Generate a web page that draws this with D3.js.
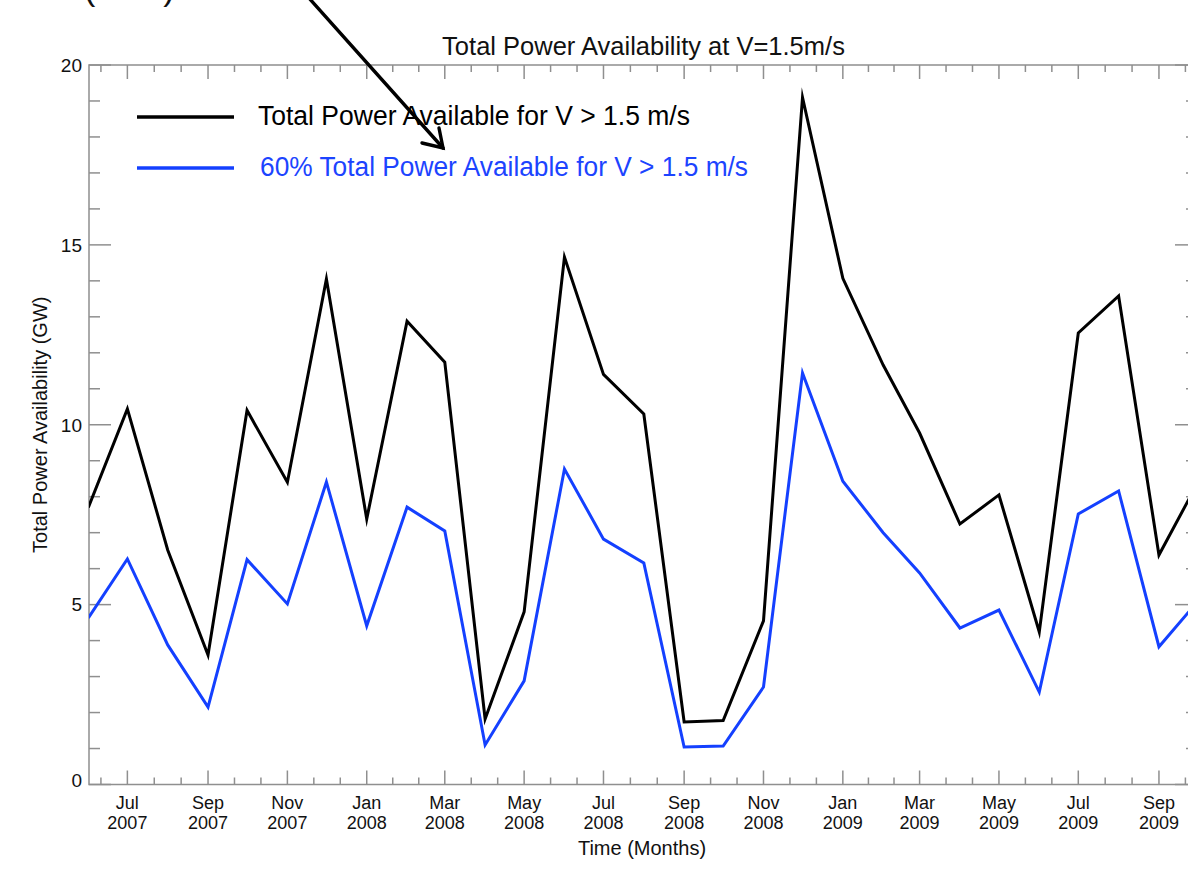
<!DOCTYPE html>
<html>
<head>
<meta charset="utf-8">
<script src="https://cdn.jsdelivr.net/npm/d3@7"></script>
<style>
  html, body { margin: 0; padding: 0; background: #fff; }
  svg { display: block; }
  text { font-family: "Liberation Sans", Arial, Helvetica, sans-serif; fill: #111; }
</style>
</head>
<body>
<svg id="chart" width="1188" height="870"></svg>
<script>
// Monthly samples (first of each month)
const months = ["2007-06","2007-07","2007-08","2007-09","2007-10","2007-11","2007-12",
  "2008-01","2008-02","2008-03","2008-04","2008-05","2008-06","2008-07","2008-08",
  "2008-09","2008-10","2008-11","2008-12","2009-01","2009-02","2009-03","2009-04",
  "2009-05","2009-06","2009-07","2009-08","2009-09","2009-10"];

// Total power available for V > 1.5 m/s (GW)
const totalPower = [7.7, 10.44, 6.52, 3.6, 10.4, 8.4, 14.05, 7.38, 12.88, 11.74, 1.82, 4.8,
  14.66, 11.4, 10.3, 1.74, 1.78, 4.55, 19.1, 14.07, 11.66, 9.77, 7.24, 8.05, 4.24, 12.55,
  13.58, 6.38, 8.4];

// 60% of the total power available for V > 1.5 m/s (GW)
const power60 = [4.63, 6.27, 3.88, 2.15, 6.25, 5.02, 8.41, 4.41, 7.71, 7.05, 1.1, 2.88,
  8.77, 6.82, 6.16, 1.04, 1.07, 2.71, 11.44, 8.43, 7.0, 5.88, 4.35, 4.85, 2.57, 7.52,
  8.16, 3.83, 5.1];

const yMajorTicks = [0, 5, 10, 15, 20];
const monthNames = ["Jan","Feb","Mar","Apr","May","Jun","Jul","Aug","Sep","Oct","Nov","Dec"];

const legendLabels = ["Total Power Available for V > 1.5 m/s",
                      "60% Total Power Available for V > 1.5 m/s"];
const titleText = "Total Power Availability at V=1.5m/s";
const xTitle = "Time (Months)";
const yTitle = "Total Power Availability (GW)";
const noteText = "(60%)";

const parse = d3.timeParse("%Y-%m");
const dates = months.map(parse);

const svg = d3.select("#chart");
const plot = { left: 89, right: 1197, top: 65, bottom: 784.5 };

const x = d3.scaleTime()
  .domain([new Date(2007, 5, 1, 12), new Date(2009, 8, 30, 6)])
  .range([plot.left, plot.right]);
const y = d3.scaleLinear().domain([0, 20]).range([plot.bottom, plot.top]);

const axisColor = "#8f8f8f";

// Major x ticks every two months, minor ticks at thirds between them
const majorDates = d3.timeMonth.every(2).range(new Date(2007, 4, 1), new Date(2010, 0, 1))
  .filter(d => d.getMonth() % 2 === 0);
const minorDates = [];
for (let i = 0; i < majorDates.length - 1; i++) {
  const a = +majorDates[i], b = +majorDates[i + 1];
  minorDates.push(new Date(a + (b - a) / 3), new Date(a + 2 * (b - a) / 3));
}
const [d0, d1] = x.domain();
const inX = d => d >= d0 && d <= d1;
const xMajor = majorDates.filter(inX);
const xMinor = minorDates.filter(inX);
const yMinor = d3.range(0, 21, 1).filter(v => v % 5 !== 0);

const axes = svg.append("g").attr("stroke", axisColor).attr("stroke-width", 1.5);

// Frame
axes.append("rect")
  .attr("x", plot.left).attr("y", plot.top)
  .attr("width", plot.right - plot.left).attr("height", plot.bottom - plot.top)
  .attr("fill", "none");

// Bottom and top ticks
xMajor.forEach(d => {
  axes.append("line").attr("x1", x(d)).attr("x2", x(d)).attr("y1", plot.bottom).attr("y2", plot.bottom - 14);
  axes.append("line").attr("x1", x(d)).attr("x2", x(d)).attr("y1", plot.top).attr("y2", plot.top + 14);
});
xMinor.forEach(d => {
  axes.append("line").attr("x1", x(d)).attr("x2", x(d)).attr("y1", plot.bottom).attr("y2", plot.bottom - 7);
  axes.append("line").attr("x1", x(d)).attr("x2", x(d)).attr("y1", plot.top).attr("y2", plot.top + 7);
});
// Left and right ticks
yMajorTicks.forEach(v => {
  axes.append("line").attr("x1", plot.left).attr("x2", plot.left + 22).attr("y1", y(v)).attr("y2", y(v));
  axes.append("line").attr("x1", plot.right).attr("x2", plot.right - 22).attr("y1", y(v)).attr("y2", y(v));
});
yMinor.forEach(v => {
  axes.append("line").attr("x1", plot.left).attr("x2", plot.left + 11).attr("y1", y(v)).attr("y2", y(v));
  axes.append("line").attr("x1", plot.right).attr("x2", plot.right - 11).attr("y1", y(v)).attr("y2", y(v));
});

// Tick labels: month on the first line, year on the second
const xl = svg.append("g").attr("font-size", 18).attr("text-anchor", "middle");
xMajor.forEach(d => {
  xl.append("text").attr("x", x(d)).attr("y", 808.5).text(monthNames[d.getMonth()]);
  xl.append("text").attr("x", x(d)).attr("y", 828.5).text(d.getFullYear());
});
svg.append("g").attr("font-size", 19).attr("text-anchor", "end")
  .selectAll("text").data(yMajorTicks).join("text")
  .attr("x", plot.left - 7)
  .attr("y", v => y(v) + (v === 0 ? -4 : 0))
  .attr("dy", "0.36em")
  .text(v => v);

// Titles
svg.append("text").attr("x", 643.5).attr("y", 54.5).attr("text-anchor", "middle")
  .attr("font-size", 25.5).text(titleText);
svg.append("text").attr("x", 642).attr("y", 855).attr("text-anchor", "middle")
  .attr("font-size", 20).text(xTitle);
svg.append("text")
  .attr("transform", `translate(47,${(plot.top + plot.bottom) / 2}) rotate(-90)`)
  .attr("text-anchor", "middle").attr("font-size", 20).text(yTitle);

// Series
svg.append("defs").append("clipPath").attr("id", "plotClip")
  .append("rect").attr("x", plot.left).attr("y", 0)
  .attr("width", plot.right - plot.left).attr("height", 870);

const line = d3.line().x((d, i) => x(dates[i])).y(d => y(d));
const series = [
  { values: totalPower, color: "#000000", label: legendLabels[0], text: "#000000" },
  { values: power60, color: "#1440ff", label: legendLabels[1], text: "#1c44ff" }
];
const lines = svg.append("g").attr("clip-path", "url(#plotClip)");
series.forEach(s => {
  lines.append("path").attr("d", line(s.values))
    .attr("fill", "none").attr("stroke", s.color).attr("stroke-width", 3)
    .attr("stroke-linejoin", "miter").attr("stroke-miterlimit", 10);
});

// Legend
const legend = svg.append("g");
const legendRows = [
  { y: 117, tx: 258, ty: 125, w: 432 },
  { y: 168, tx: 260, ty: 176, w: 488 }
];
series.forEach((s, i) => {
  const r = legendRows[i];
  legend.append("line").attr("x1", 137).attr("x2", 234).attr("y1", r.y).attr("y2", r.y)
    .attr("stroke", s.color).attr("stroke-width", 3.5);
  legend.append("text").attr("x", r.tx).attr("y", r.ty)
    .attr("font-family", "Lato, 'Open Sans', sans-serif").attr("font-size", 27)
    .attr("textLength", r.w).attr("lengthAdjust", "spacingAndGlyphs")
    .style("fill", s.text).text(s.label);
});

// Note above the frame (runs off the top edge) and its arrow to the 60% legend entry
svg.append("text").attr("x", 84).attr("y", 0).attr("font-size", 34).text(noteText);
const arrow = svg.append("g").attr("stroke", "#000").attr("stroke-width", 3.4)
  .attr("fill", "none").attr("stroke-linecap", "round");
const tip = [443, 148];
arrow.append("line").attr("x1", 300).attr("y1", -12).attr("x2", tip[0]).attr("y2", tip[1]);
arrow.append("path").attr("d", `M${tip[0] - 4},${tip[1] - 20} L${tip[0]},${tip[1]} L${tip[0] - 21},${tip[1] - 5}`)
  .attr("stroke-linejoin", "miter");
</script>
</body>
</html>
